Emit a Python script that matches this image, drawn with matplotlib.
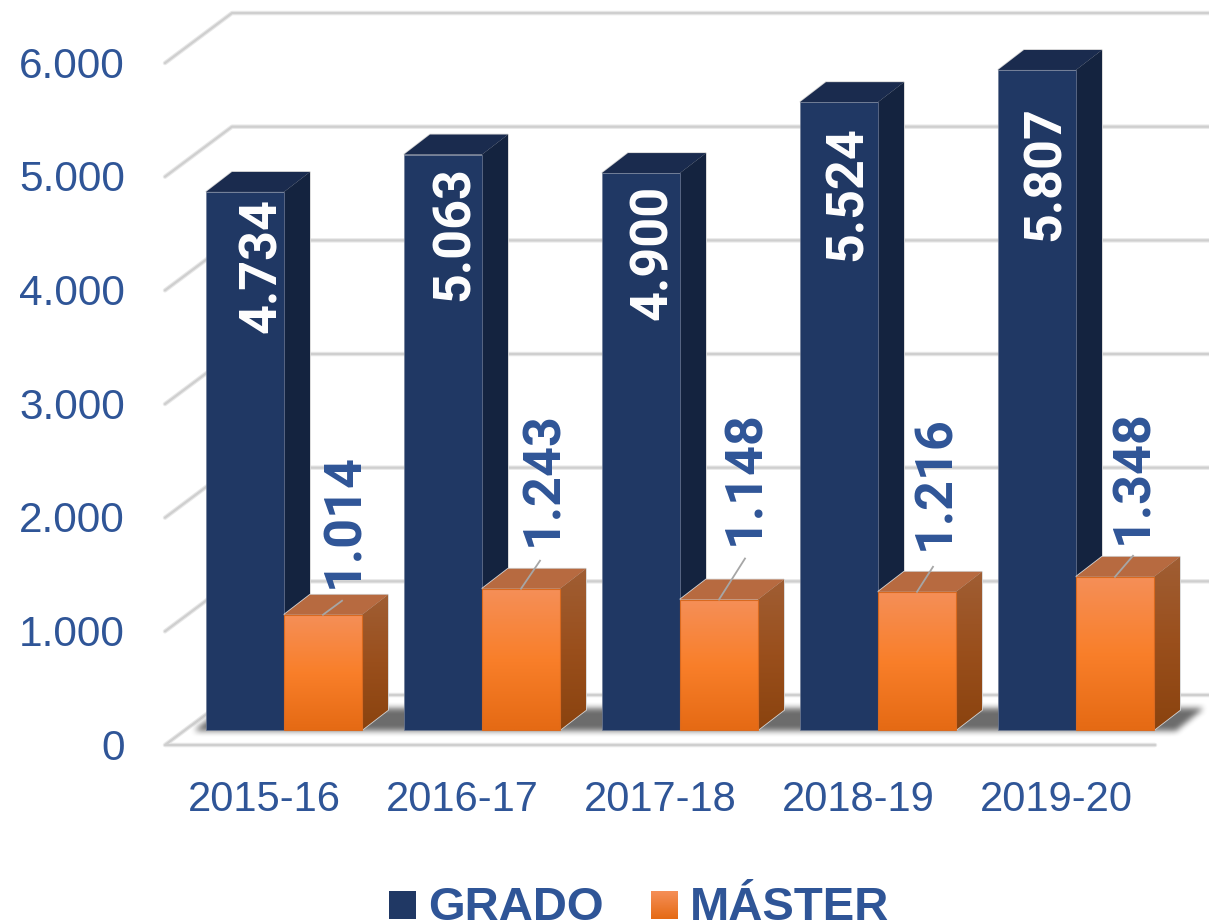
# -*- coding: utf-8 -*-
import numpy as np
import matplotlib
matplotlib.use('Agg')
import matplotlib.pyplot as plt
from matplotlib.colors import LinearSegmentedColormap
from matplotlib.patches import Polygon, Rectangle
from matplotlib.path import Path

# data
cursos = ['2015-16', '2016-17', '2017-18', '2018-19', '2019-20']
grado = [4734, 5063, 4900, 5524, 5807]
master = [1014, 1243, 1148, 1216, 1348]
grado_txt = ['4.734', '5.063', '4.900', '5.524', '5.807']
master_txt = ['1.014', '1.243', '1.148', '1.216', '1.348']
yticks = [0, 1000, 2000, 3000, 4000, 5000, 6000]
ylabels = ['0', '1.000', '2.000', '3.000', '4.000', '5.000', '6.000']

# scales : pixels of the picture <-> data units
W, H = 1209, 923
PX_CAT = 198.0
PX_VAL = 0.11366
def X(px):
    return (px - 284) / PX_CAT
def Y(py):
    return (745 - py) / PX_VAL
def DX(px):
    return px / PX_CAT
def DY(py):
    return py / PX_VAL

AZUL = '#2F5597'
fig = plt.figure(figsize=(W / 100, H / 100), dpi=100)
ax = fig.add_axes([0, 0, 1, 1])
ax.axis('off')

def grad(verts, colores, z, clip=None):
    cm_ = LinearSegmentedColormap.from_list('g', colores)
    v = np.array(verts)
    g = np.linspace(0, 1, 128).reshape(-1, 1)
    im = ax.imshow(g, cmap=cm_, aspect='auto', zorder=z,
                   extent=[v[:, 0].min(), v[:, 0].max(), v[:, 1].min(), v[:, 1].max()],
                   origin='upper', interpolation='bilinear')
    pg = Polygon(verts, closed=True, transform=ax.transData, fill=False, edgecolor='none')
    im.set_clip_path(pg)
    return im

def linea(xs, ys, z=1):
    ax.plot(xs, ys, color='#E8E8E8', lw=3.2, zorder=z, solid_capstyle='round', solid_joinstyle='round')
    ax.plot(xs, ys, color='#CFCFCF', lw=1.6, zorder=z, solid_capstyle='round', solid_joinstyle='round')

# walls and grid
fx, fy = DX(67), DY(50)
x0, x_fin = X(165), X(W + 5)
for t in yticks[1:]:
    linea([x0, x0 + fx, x_fin], [t, t + fy, t + fy])
    ax.text(X(125), t + DY(1), ylabels[yticks.index(t)], color=AZUL, fontsize=30.5, family='Liberation Sans',
            ha='right', va='center_baseline', zorder=6)
linea([x0 + fx, x_fin], [fy, fy])
linea([X(1155), x0, x0 + fx], [0, 0, fy])
ax.text(X(125), DY(1), ylabels[0], color=AZUL, fontsize=30.5, family='Liberation Sans',
        ha='right', va='center_baseline', zorder=6)

# floor shadow, soft edge
sx0, sx1, sy0, sy1 = 170, 1209, 695, 745
gx, gy = np.meshgrid(np.arange(sx0, sx1) + 0.5, np.arange(sy0, sy1) + 0.5)
trap = Path([(194, 731), (1176, 731), (1204, 708), (222, 708)])
m = trap.contains_points(np.c_[gx.ravel(), gy.ravel()]).reshape(gx.shape).astype(float)
nuc = np.ones(7) / 7
for _ in range(2):
    m = np.apply_along_axis(lambda f: np.convolve(f, nuc, mode='same'), 0, m)
    m = np.apply_along_axis(lambda f: np.convolve(f, nuc, mode='same'), 1, m)
rgba = np.zeros(m.shape + (4,))
rgba[..., 3] = m * 0.58
ax.imshow(rgba, extent=[X(sx0), X(sx1), Y(sy1), Y(sy0)], aspect='auto', origin='upper', zorder=2)

# bars
BASE = DY(15)
ancho = 78 / PX_CAT
pdx, pdy = DX(26), DY(20)
pos = np.arange(len(cursos))

def caja(x, v, frente, lado, techo, z):
    # x = left edge of the front face
    izq, der, arr = x, x + ancho, BASE + v
    pl = [(der, BASE), (der + pdx, BASE + pdy), (der + pdx, arr + pdy), (der, arr)]
    pt = [(izq, arr), (izq + pdx, arr + pdy), (der + pdx, arr + pdy), (der, arr)]
    for p in (pl, pt):
        ax.add_patch(Polygon(p, closed=True, facecolor='none', edgecolor='#D4D4D4', lw=1.2, zorder=z))
    ax.add_patch(Polygon(pt, closed=True, facecolor=techo, edgecolor='none', zorder=z + 0.1))
    if isinstance(lado, str):
        ax.add_patch(Polygon(pl, closed=True, facecolor=lado, edgecolor='none', zorder=z + 0.1))
    else:
        grad(pl, lado, z + 0.1)
    if isinstance(frente, str):
        ax.bar(x, v, ancho, bottom=BASE, align='edge', color=frente, edgecolor='#6F7C96', lw=0.5, zorder=z + 0.2)
    else:
        ax.bar(x, v, ancho, bottom=BASE, align='edge', color='none', edgecolor='#D96A20', lw=0.8, zorder=z + 0.3)
        grad([(izq, BASE), (der, BASE), (der, arr), (izq, arr)], frente, z + 0.2)

for i in pos:
    caja(i - ancho, grado[i], '#203864', '#14233F', '#1A2B4E', 3 + i * 0.01)
    caja(i, master[i], ['#F58F58', '#F97F2A', '#E56A14'], ['#A05E34', '#9A4F1C', '#8A430F'], '#B76A40', 3.5 + i * 0.01)

# data labels
sube_g = [74, 79, 79, 91, 104]   # px below bar top
corre_g = [17, 12, 12, 9, 9]     # px right of the bar centre
alto_m = [521, 479, 478, 483, 477]
corre_m = [21, 22, 26, 18, 18]
fin_m = [(19, 14), (19, 28), (26, 41), (16, 25), (18, 21)]
for i in pos:
    top = BASE + grado[i]
    ax.text(i - ancho / 2 + DX(corre_g[i]), top - DY(sube_g[i]), grado_txt[i], color='white', rotation=90,
            fontsize=37.5, family='Roboto', weight='semibold', ha='center', va='center', zorder=7)
    top = BASE + master[i]
    xc = i + ancho / 2
    ax.plot([xc, xc + DX(fin_m[i][0])], [top, top + DY(fin_m[i][1])], color='#A6A6A6', lw=1.3, zorder=6)
    ax.text(xc + DX(corre_m[i]), Y(alto_m[i]), master_txt[i], color=AZUL, rotation=90,
            fontsize=37.5, family='Roboto', weight='semibold', ha='center', va='center', zorder=7)

# category labels
for i in pos:
    ax.text(i - DX(20), Y(800), cursos[i], color=AZUL, fontsize=30, family='Liberation Sans',
            ha='center', va='center', zorder=6)

# legend
ax.add_patch(Rectangle((X(389), Y(919)), DX(27), DY(28), facecolor='#203864', edgecolor='none', zorder=6))
grad([(X(651), Y(919)), (X(678), Y(919)), (X(678), Y(891)), (X(651), Y(891))], ['#F58F58', '#E56A14'], 6)
ax.text(X(428), Y(920), 'GRADO', color=AZUL, fontsize=34, family='Liberation Sans', weight='bold',
        ha='left', va='baseline', zorder=6)
ax.text(X(690), Y(920), 'MÁSTER', color=AZUL, fontsize=34, family='Liberation Sans', weight='bold',
        ha='left', va='baseline', zorder=6)

ax.set_xlim(X(0), X(W))
ax.set_ylim(Y(H), Y(0))
fig.savefig('out.png', dpi=100)
